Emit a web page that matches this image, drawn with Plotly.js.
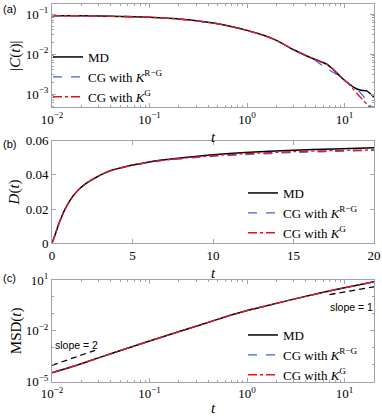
<!DOCTYPE html>
<html>
<head>
<meta charset="utf-8">
<script src="https://cdn.plot.ly/plotly-3.0.1.min.js"></script>
<style>html,body{margin:0;padding:0;background:#fff;}#chart{width:382px;height:416px;}</style>
</head>
<body>
<div id="chart"></div>
<script>
// ---------- data ----------
// (a) velocity autocorrelation |C(t)|
const tC_md = [0.01, 0.02, 0.05, 0.1, 0.2, 0.5, 1, 1.5, 2, 3, 4, 5.16, 6.55, 7.66, 8.96, 10.5, 12.3, 14.4, 16.8, 20];
const C_md  = [0.091, 0.090, 0.087, 0.083, 0.075, 0.057, 0.039, 0.029, 0.022, 0.0128, 0.0092, 0.0071, 0.0056, 0.0041, 0.0028, 0.0020, 0.0015, 0.00126, 0.0012, 0.00085];
const tC_rg = [0.01, 0.02, 0.05, 0.1, 0.2, 0.5, 1, 1.5, 2, 3, 4, 5, 6.0, 8.3, 10.5, 13.3, 16.2, 18.2, 20];
const C_rg  = [0.091, 0.090, 0.087, 0.083, 0.075, 0.057, 0.039, 0.029, 0.022, 0.0128, 0.0092, 0.0069, 0.0050, 0.0031, 0.0020, 0.00138, 0.00078, 0.00052, 0.00040];
const tC_g  = [0.01, 0.02, 0.05, 0.1, 0.2, 0.5, 1, 1.5, 2, 3, 4, 5.16, 6.55, 7.66, 8.96, 10.5, 11.3, 13.3, 15.5, 17.4, 20];
const C_g   = [0.091, 0.090, 0.087, 0.083, 0.075, 0.057, 0.039, 0.029, 0.022, 0.0128, 0.0092, 0.0071, 0.0056, 0.0041, 0.0028, 0.0020, 0.00166, 0.00105, 0.00070, 0.00052, 0.00036];

// (b) diffusion coefficient D(t)
const tD   = [0, 0.19, 0.39, 0.6, 0.81, 1.12, 1.43, 1.84, 2.26, 2.67, 3.19, 3.7, 4.74, 5.78, 6.81, 7.85, 8.9, 10, 12, 15, 17.5, 20];
const D_md = [0, 0.0048, 0.0106, 0.0155, 0.0199, 0.0251, 0.029, 0.0329, 0.0358, 0.0381, 0.0407, 0.0426, 0.0451, 0.0470, 0.0486, 0.0497, 0.0507, 0.0517, 0.0530, 0.0543, 0.0551, 0.0558];
const D_rg = [0, 0.0048, 0.0106, 0.0155, 0.0199, 0.0251, 0.029, 0.0329, 0.0358, 0.0381, 0.0407, 0.0426, 0.0450, 0.0468, 0.0482, 0.0492, 0.0500, 0.0508, 0.0518, 0.0530, 0.0537, 0.0542];
const D_g  = [0, 0.0048, 0.0106, 0.0155, 0.0199, 0.0251, 0.029, 0.0329, 0.0358, 0.0381, 0.0407, 0.0426, 0.0450, 0.0469, 0.0484, 0.0494, 0.0503, 0.0512, 0.0523, 0.0535, 0.0541, 0.0545];

// (c) mean squared displacement
const tM     = [0.01, 0.0186, 0.0316, 0.0562, 0.1, 0.18, 0.331, 0.603, 1, 1.585, 3.5, 7.69, 20];
const MSD_md = [3.39e-5, 1.0e-4, 2.82e-4, 8.51e-4, 2.51e-3, 7.41e-3, 0.0224, 0.0676, 0.158, 0.302, 0.912, 2.57, 7.94];
const MSD_rg = [3.39e-5, 1.0e-4, 2.82e-4, 8.51e-4, 2.51e-3, 7.41e-3, 0.0224, 0.0676, 0.158, 0.302, 0.905, 2.54, 7.80];
const MSD_g  = [3.39e-5, 1.0e-4, 2.82e-4, 8.51e-4, 2.51e-3, 7.41e-3, 0.0224, 0.0676, 0.158, 0.302, 0.908, 2.55, 7.85];
// reference slope lines
const slope2_t = [0.01, 0.0277];
const slope2_y = [9.3e-5, 7.1e-4];
const slope1_t = [7.0, 20];
const slope1_y = [1.39, 3.98];

// tick values / labels
const logX_vals = [0.01, 0.1, 1, 10];
const logX_text = ['10<sup>−2</sup>', '10<sup>−1</sup>', '10<sup>0</sup>', '10<sup>1</sup>'];
const C_vals = [0.001, 0.01, 0.1];
const C_text = ['10<sup>−3</sup>', '10<sup>−2</sup>', '10<sup>−1</sup>'];
const MSD_vals = [1e-5, 1e-2, 10];
const MSD_text = ['10<sup>−5</sup>', '10<sup>−2</sup>', '10<sup>1</sup>'];

const seriesNames = ['MD', 'CG with <i>K</i><sup>R−G</sup>', 'CG with <i>K</i><sup>G</sup>'];
const panelLabels = ['(a)', '(b)', '(c)'];
const slopeLabels = ['slope = 2', 'slope = 1'];

// ---------- styles ----------
const W = 382, H = 416;
const AX = '#a3a3ad';
const SERIF = 'Liberation Serif, Times New Roman, serif';
const SANS = 'Liberation Sans, Arial, sans-serif';
const styles = [
  {color: '#000000', width: 1.5, dash: 'solid'},
  {color: '#3f5ff0', width: 1.3, dash: 'dash'},
  {color: '#ee1111', width: 1.3, dash: 'dashdot'}
];
const xd = [52 / W, 374 / W];
function yd(top, bot) { return [1 - bot / H, 1 - top / H]; }
const tfont = {family: SERIF, size: 15, color: '#000'};
const minorLog = {ticks: 'inside', ticklen: 2, tickcolor: AX, dtick: 'D1'};

function axis(extra) {
  return Object.assign({
    showline: true, linecolor: AX, linewidth: 1, mirror: 'ticks',
    ticks: 'inside', ticklen: 4, tickcolor: AX, tickwidth: 1,
    showgrid: false, zeroline: false, automargin: false,
    tickfont: {family: SERIF, size: 13, color: '#000'}
  }, extra);
}

const traces = [];
const sets = [
  {x: [tC_md, tC_rg, tC_g], y: [C_md, C_rg, C_g], xa: 'x', ya: 'y', lg: 'legend'},
  {x: [tD, tD, tD], y: [D_md, D_rg, D_g], xa: 'x2', ya: 'y2', lg: 'legend2'},
  {x: [tM, tM, tM], y: [MSD_md, MSD_rg, MSD_g], xa: 'x3', ya: 'y3', lg: 'legend3'}
];
sets.forEach(s => {
  for (let i = 0; i < 3; i++) {
    traces.push({
      x: s.x[i], y: s.y[i], xaxis: s.xa, yaxis: s.ya, legend: s.lg,
      type: 'scatter', mode: 'lines', name: seriesNames[i],
      line: Object.assign({shape: 'spline', smoothing: 0.5}, styles[i])
    });
  }
});
traces.push({x: slope2_t, y: slope2_y, xaxis: 'x3', yaxis: 'y3', mode: 'lines', showlegend: false,
  line: {color: '#000', width: 1.3, dash: '6px,4px'}});
traces.push({x: slope1_t, y: slope1_y, xaxis: 'x3', yaxis: 'y3', mode: 'lines', showlegend: false,
  line: {color: '#000', width: 1.3, dash: '6px,4px'}});

const legendBase = {
  bgcolor: 'rgba(0,0,0,0)', borderwidth: 0,
  font: {family: SERIF, size: 13, color: '#000'},
  xanchor: 'left', yanchor: 'top', tracegroupgap: 0, itemwidth: 30
};

const layout = {
  width: W, height: H,
  margin: {l: 0, r: 0, t: 0, b: 0},
  paper_bgcolor: '#fff', plot_bgcolor: '#fff',
  showlegend: true,
  xaxis: axis({domain: xd, anchor: 'y', type: 'log', range: [-2, Math.log10(20)],
    tickmode: 'array', tickvals: logX_vals, ticktext: logX_text, minor: minorLog,
    title: {text: '<i>t</i>', font: tfont, standoff: 5}}),
  yaxis: axis({domain: yd(4, 107.3), anchor: 'x', type: 'log', range: [-3.33, -0.75],
    tickmode: 'array', tickvals: C_vals, ticktext: C_text, minor: minorLog,
    title: {text: '|<i>C</i>(<i>t</i>)|', font: tfont, standoff: 1}}),
  xaxis2: axis({domain: xd, anchor: 'y2', range: [0, 20], dtick: 5,
    title: {text: '<i>t</i>', font: tfont, standoff: 5}}),
  yaxis2: axis({domain: yd(140.5, 243.3), anchor: 'x2', range: [0, 0.06], dtick: 0.02,
    title: {text: '<i>D</i>(<i>t</i>)', font: tfont, standoff: 2}}),
  xaxis3: axis({domain: xd, anchor: 'y3', type: 'log', range: [-2, Math.log10(20)],
    tickmode: 'array', tickvals: logX_vals, ticktext: logX_text, minor: minorLog,
    title: {text: '<i>t</i>', font: tfont, standoff: 5}}),
  yaxis3: axis({domain: yd(280, 381.7), anchor: 'x3', type: 'log', range: [-5, 1],
    tickmode: 'array', tickvals: MSD_vals, ticktext: MSD_text,
    minor: {ticks: 'inside', ticklen: 2, tickcolor: AX, dtick: 1},
    title: {text: 'MSD(<i>t</i>)', font: tfont, standoff: 0}}),
  legend: Object.assign({}, legendBase, {x: 48 / W, y: 1 - 42 / H}),
  legend2: Object.assign({}, legendBase, {x: 243 / W, y: 1 - 178 / H}),
  legend3: Object.assign({}, legendBase, {x: 243 / W, y: 1 - 320 / H}),
  annotations: [
    {text: panelLabels[0], xref: 'paper', yref: 'paper', x: 1 / W, y: 1 - 1 / H, xanchor: 'left', yanchor: 'top', showarrow: false, font: {family: SANS, size: 11, color: '#000'}},
    {text: panelLabels[1], xref: 'paper', yref: 'paper', x: 1 / W, y: 1 - 136 / H, xanchor: 'left', yanchor: 'top', showarrow: false, font: {family: SANS, size: 11, color: '#000'}},
    {text: panelLabels[2], xref: 'paper', yref: 'paper', x: 1 / W, y: 1 - 270 / H, xanchor: 'left', yanchor: 'top', showarrow: false, font: {family: SANS, size: 11, color: '#000'}},
    {text: slopeLabels[0], xref: 'x3', yref: 'y3', x: -1.744, y: -2.83, showarrow: false, font: {family: SANS, size: 10.5, color: '#000'}},
    {text: slopeLabels[1], xref: 'x3', yref: 'y3', x: 1.075, y: -0.575, showarrow: false, font: {family: SANS, size: 10.5, color: '#000'}}
  ]
};

Plotly.newPlot('chart', traces, layout, {staticPlot: true, displayModeBar: false});
</script>
</body>
</html>
